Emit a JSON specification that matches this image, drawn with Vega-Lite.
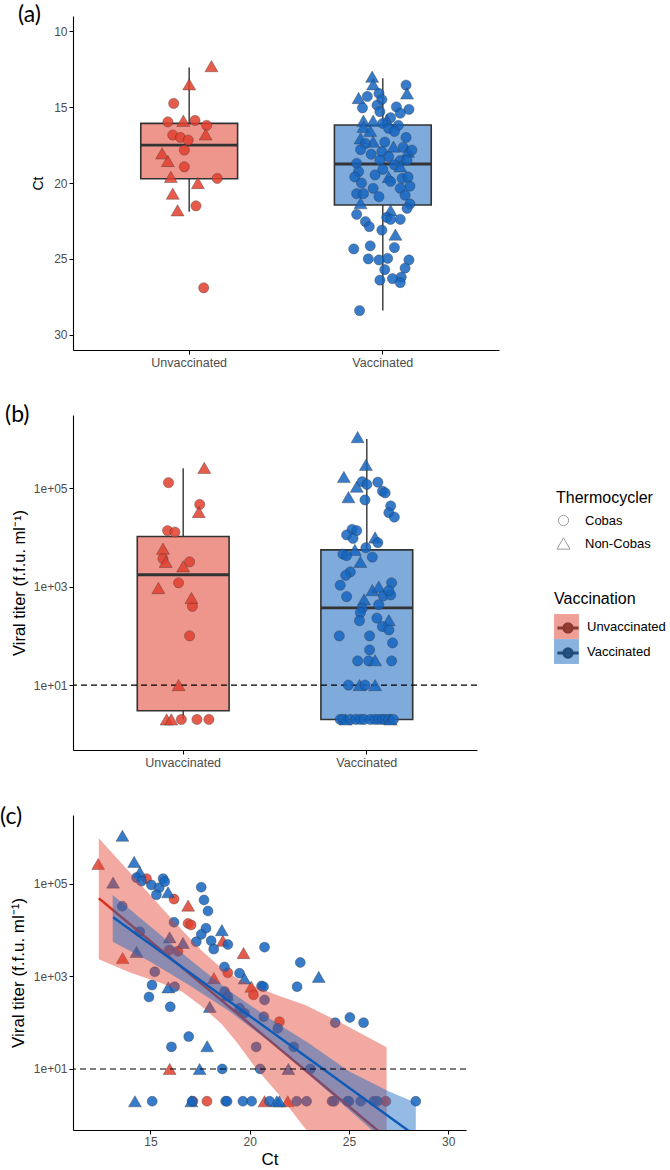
{
"$schema": "https://vega.github.io/schema/vega-lite/v6.json",
"background": "white",
"padding": {"left": 0, "top": 4, "right": 0, "bottom": 0},
"bounds": "flush",
"spacing": 65,
"config": {
  "view": {"stroke": null},
  "font": "Liberation Sans",
  "axis": {"grid": false, "domainColor": "#000", "domainWidth": 1.1, "tickColor": "#000", "tickWidth": 1, "tickSize": 4, "labelColor": "#4d4d4d", "labelFontSize": 12, "labelPadding": 2, "titleColor": "#000", "titleFontWeight": "normal", "titleFontSize": 16},
  "title": {"font": "Lato", "fontSize": 23, "fontWeight": "normal", "color": "#000", "anchor": "start", "frame": "group", "offset": -11},
  "legend": {"titleFontWeight": "normal", "titleColor": "#000", "labelColor": "#000", "titleFontSize": 16, "labelFontSize": 13}
},
"resolve": {"scale": {"fill": "independent", "shape": "independent", "size": "independent", "stroke": "independent"}},
"datasets": {
  "boxA": [
    {"g": "Unvaccinated", "lo": 12.4, "q1": 16.07, "med": 17.5, "q3": 19.72, "hi": 21.9},
    {"g": "Vaccinated", "lo": 13.1, "q1": 16.18, "med": 18.75, "q3": 21.45, "hi": 28.4}
  ],
  "boxB": [
    {"g": "Unvaccinated", "lo": 2, "q1": 3.0, "med": 1750, "q3": 10500, "hi": 255000},
    {"g": "Vaccinated", "lo": 2, "q1": 2, "med": 370, "q3": 5600, "hi": 1000000}
  ],
  "pa": [
    {"g":"Unvaccinated","th":"Non-Cobas","ct":12.3,"j":0.23},
    {"g":"Unvaccinated","th":"Non-Cobas","ct":13.5,"j":0.0},
    {"g":"Unvaccinated","th":"Cobas","ct":14.76,"j":-0.16},
    {"g":"Unvaccinated","th":"Cobas","ct":15.97,"j":-0.22},
    {"g":"Unvaccinated","th":"Non-Cobas","ct":15.9,"j":-0.06},
    {"g":"Unvaccinated","th":"Cobas","ct":15.88,"j":0.06},
    {"g":"Unvaccinated","th":"Cobas","ct":16.2,"j":0.18},
    {"g":"Unvaccinated","th":"Non-Cobas","ct":16.8,"j":0.17},
    {"g":"Unvaccinated","th":"Cobas","ct":16.84,"j":-0.17},
    {"g":"Unvaccinated","th":"Cobas","ct":17.0,"j":-0.09},
    {"g":"Unvaccinated","th":"Cobas","ct":17.17,"j":-0.01},
    {"g":"Unvaccinated","th":"Cobas","ct":17.83,"j":-0.05},
    {"g":"Unvaccinated","th":"Non-Cobas","ct":18.05,"j":-0.28},
    {"g":"Unvaccinated","th":"Non-Cobas","ct":18.55,"j":-0.22},
    {"g":"Unvaccinated","th":"Cobas","ct":18.93,"j":-0.05},
    {"g":"Unvaccinated","th":"Non-Cobas","ct":19.6,"j":-0.19},
    {"g":"Unvaccinated","th":"Cobas","ct":19.7,"j":0.29},
    {"g":"Unvaccinated","th":"Non-Cobas","ct":20.0,"j":0.09},
    {"g":"Unvaccinated","th":"Non-Cobas","ct":20.7,"j":-0.17},
    {"g":"Unvaccinated","th":"Cobas","ct":21.5,"j":0.07},
    {"g":"Unvaccinated","th":"Non-Cobas","ct":21.8,"j":-0.12},
    {"g":"Unvaccinated","th":"Cobas","ct":26.9,"j":0.15},
    {"g":"Vaccinated","th":"Non-Cobas","ct":13.0,"j":-0.11},
    {"g":"Vaccinated","th":"Non-Cobas","ct":13.5,"j":-0.10},
    {"g":"Vaccinated","th":"Cobas","ct":13.55,"j":0.24},
    {"g":"Vaccinated","th":"Non-Cobas","ct":14.1,"j":0.25},
    {"g":"Vaccinated","th":"Non-Cobas","ct":14.4,"j":-0.25},
    {"g":"Vaccinated","th":"Cobas","ct":14.3,"j":-0.16},
    {"g":"Vaccinated","th":"Cobas","ct":14.1,"j":-0.04},
    {"g":"Vaccinated","th":"Cobas","ct":14.5,"j":-0.01},
    {"g":"Vaccinated","th":"Cobas","ct":15.05,"j":-0.21},
    {"g":"Vaccinated","th":"Cobas","ct":14.87,"j":-0.06},
    {"g":"Vaccinated","th":"Cobas","ct":14.98,"j":0.14},
    {"g":"Vaccinated","th":"Cobas","ct":15.15,"j":0.27},
    {"g":"Vaccinated","th":"Cobas","ct":15.3,"j":-0.03},
    {"g":"Vaccinated","th":"Cobas","ct":15.4,"j":0.18},
    {"g":"Vaccinated","th":"Cobas","ct":15.7,"j":0.08},
    {"g":"Vaccinated","th":"Non-Cobas","ct":15.86,"j":0.04},
    {"g":"Vaccinated","th":"Non-Cobas","ct":15.9,"j":-0.2},
    {"g":"Vaccinated","th":"Non-Cobas","ct":15.9,"j":-0.1},
    {"g":"Vaccinated","th":"Cobas","ct":16.2,"j":0.16},
    {"g":"Vaccinated","th":"Non-Cobas","ct":16.3,"j":-0.2},
    {"g":"Vaccinated","th":"Cobas","ct":16.07,"j":0.0},
    {"g":"Vaccinated","th":"Cobas","ct":16.4,"j":0.06},
    {"g":"Vaccinated","th":"Non-Cobas","ct":16.56,"j":-0.13},
    {"g":"Vaccinated","th":"Cobas","ct":16.6,"j":0.12},
    {"g":"Vaccinated","th":"Non-Cobas","ct":17.06,"j":-0.23},
    {"g":"Vaccinated","th":"Non-Cobas","ct":17.28,"j":-0.1},
    {"g":"Vaccinated","th":"Cobas","ct":17.0,"j":0.24},
    {"g":"Vaccinated","th":"Cobas","ct":17.3,"j":0.02},
    {"g":"Vaccinated","th":"Cobas","ct":17.4,"j":-0.18},
    {"g":"Vaccinated","th":"Non-Cobas","ct":17.6,"j":0.11},
    {"g":"Vaccinated","th":"Cobas","ct":17.8,"j":-0.23},
    {"g":"Vaccinated","th":"Cobas","ct":17.94,"j":-0.01},
    {"g":"Vaccinated","th":"Cobas","ct":17.65,"j":0.21},
    {"g":"Vaccinated","th":"Non-Cobas","ct":17.94,"j":0.26},
    {"g":"Vaccinated","th":"Cobas","ct":17.83,"j":0.3},
    {"g":"Vaccinated","th":"Cobas","ct":18.1,"j":-0.12},
    {"g":"Vaccinated","th":"Cobas","ct":18.27,"j":0.06},
    {"g":"Vaccinated","th":"Cobas","ct":18.5,"j":-0.03},
    {"g":"Vaccinated","th":"Cobas","ct":18.53,"j":0.18},
    {"g":"Vaccinated","th":"Cobas","ct":18.49,"j":0.25},
    {"g":"Vaccinated","th":"Cobas","ct":18.7,"j":-0.27},
    {"g":"Vaccinated","th":"Cobas","ct":18.8,"j":0.12},
    {"g":"Vaccinated","th":"Non-Cobas","ct":18.9,"j":0.18},
    {"g":"Vaccinated","th":"Cobas","ct":19.1,"j":0.0},
    {"g":"Vaccinated","th":"Cobas","ct":19.25,"j":-0.25},
    {"g":"Vaccinated","th":"Cobas","ct":19.47,"j":-0.08},
    {"g":"Vaccinated","th":"Non-Cobas","ct":19.6,"j":0.06},
    {"g":"Vaccinated","th":"Cobas","ct":19.6,"j":-0.29},
    {"g":"Vaccinated","th":"Cobas","ct":19.7,"j":0.2},
    {"g":"Vaccinated","th":"Cobas","ct":19.6,"j":0.26},
    {"g":"Vaccinated","th":"Cobas","ct":19.9,"j":0.08},
    {"g":"Vaccinated","th":"Cobas","ct":20.0,"j":-0.22},
    {"g":"Vaccinated","th":"Cobas","ct":20.2,"j":0.28},
    {"g":"Vaccinated","th":"Cobas","ct":20.35,"j":0.18},
    {"g":"Vaccinated","th":"Cobas","ct":20.35,"j":-0.1},
    {"g":"Vaccinated","th":"Cobas","ct":20.7,"j":-0.27},
    {"g":"Vaccinated","th":"Cobas","ct":20.7,"j":-0.2},
    {"g":"Vaccinated","th":"Cobas","ct":20.9,"j":-0.04},
    {"g":"Vaccinated","th":"Cobas","ct":20.8,"j":0.23},
    {"g":"Vaccinated","th":"Non-Cobas","ct":21.33,"j":-0.23},
    {"g":"Vaccinated","th":"Cobas","ct":21.38,"j":0.28},
    {"g":"Vaccinated","th":"Cobas","ct":21.67,"j":0.25},
    {"g":"Vaccinated","th":"Non-Cobas","ct":21.8,"j":0.08},
    {"g":"Vaccinated","th":"Cobas","ct":22.06,"j":-0.27},
    {"g":"Vaccinated","th":"Cobas","ct":22.26,"j":0.04},
    {"g":"Vaccinated","th":"Cobas","ct":22.4,"j":0.08},
    {"g":"Vaccinated","th":"Cobas","ct":22.39,"j":0.18},
    {"g":"Vaccinated","th":"Cobas","ct":22.54,"j":-0.18},
    {"g":"Vaccinated","th":"Cobas","ct":22.87,"j":-0.14},
    {"g":"Vaccinated","th":"Cobas","ct":23.1,"j":-0.01},
    {"g":"Vaccinated","th":"Non-Cobas","ct":23.4,"j":0.13},
    {"g":"Vaccinated","th":"Cobas","ct":24.14,"j":-0.13},
    {"g":"Vaccinated","th":"Cobas","ct":24.25,"j":0.12},
    {"g":"Vaccinated","th":"Cobas","ct":24.34,"j":-0.3},
    {"g":"Vaccinated","th":"Cobas","ct":24.96,"j":0.05},
    {"g":"Vaccinated","th":"Cobas","ct":25.0,"j":-0.15},
    {"g":"Vaccinated","th":"Cobas","ct":25.07,"j":-0.04},
    {"g":"Vaccinated","th":"Cobas","ct":25.07,"j":0.27},
    {"g":"Vaccinated","th":"Cobas","ct":25.6,"j":0.23},
    {"g":"Vaccinated","th":"Cobas","ct":25.7,"j":0.02},
    {"g":"Vaccinated","th":"Cobas","ct":26.2,"j":0.19},
    {"g":"Vaccinated","th":"Cobas","ct":26.3,"j":0.1},
    {"g":"Vaccinated","th":"Cobas","ct":26.4,"j":-0.03},
    {"g":"Vaccinated","th":"Cobas","ct":26.56,"j":0.18},
    {"g":"Vaccinated","th":"Cobas","ct":28.4,"j":-0.24}
  ],
  "pb": [
    {"g":"Unvaccinated","th":"Cobas","titer":130000,"j":-0.16},
    {"g":"Unvaccinated","th":"Non-Cobas","titer":260000,"j":0.23},
    {"g":"Unvaccinated","th":"Cobas","titer":47000,"j":0.18},
    {"g":"Unvaccinated","th":"Non-Cobas","titer":33000,"j":0.17},
    {"g":"Unvaccinated","th":"Cobas","titer":13800,"j":-0.17},
    {"g":"Unvaccinated","th":"Cobas","titer":12900,"j":-0.09},
    {"g":"Unvaccinated","th":"Non-Cobas","titer":5900,"j":-0.22},
    {"g":"Unvaccinated","th":"Cobas","titer":3700,"j":-0.22},
    {"g":"Unvaccinated","th":"Non-Cobas","titer":3200,"j":-0.19},
    {"g":"Unvaccinated","th":"Cobas","titer":3200,"j":0.07},
    {"g":"Unvaccinated","th":"Non-Cobas","titer":2600,"j":0.0},
    {"g":"Unvaccinated","th":"Cobas","titer":1200,"j":-0.05},
    {"g":"Unvaccinated","th":"Non-Cobas","titer":940,"j":-0.27},
    {"g":"Unvaccinated","th":"Cobas","titer":400,"j":0.1},
    {"g":"Unvaccinated","th":"Non-Cobas","titer":590,"j":0.09},
    {"g":"Unvaccinated","th":"Cobas","titer":100,"j":0.07},
    {"g":"Unvaccinated","th":"Non-Cobas","titer":10,"j":-0.05},
    {"g":"Unvaccinated","th":"Non-Cobas","titer":2,"j":-0.18},
    {"g":"Unvaccinated","th":"Non-Cobas","titer":2,"j":-0.13},
    {"g":"Unvaccinated","th":"Cobas","titer":2,"j":-0.02},
    {"g":"Unvaccinated","th":"Cobas","titer":2,"j":0.15},
    {"g":"Unvaccinated","th":"Cobas","titer":2,"j":0.28},
    {"g":"Vaccinated","th":"Non-Cobas","titer":1100000,"j":-0.1},
    {"g":"Vaccinated","th":"Non-Cobas","titer":300000,"j":-0.01},
    {"g":"Vaccinated","th":"Non-Cobas","titer":170000,"j":-0.25},
    {"g":"Vaccinated","th":"Cobas","titer":136000,"j":-0.05},
    {"g":"Vaccinated","th":"Cobas","titer":120000,"j":0.0},
    {"g":"Vaccinated","th":"Cobas","titer":133000,"j":0.12},
    {"g":"Vaccinated","th":"Non-Cobas","titer":108000,"j":-0.11},
    {"g":"Vaccinated","th":"Cobas","titer":88000,"j":0.17},
    {"g":"Vaccinated","th":"Cobas","titer":81000,"j":0.2},
    {"g":"Vaccinated","th":"Non-Cobas","titer":66000,"j":-0.2},
    {"g":"Vaccinated","th":"Cobas","titer":58000,"j":-0.02},
    {"g":"Vaccinated","th":"Cobas","titer":44000,"j":0.26},
    {"g":"Vaccinated","th":"Cobas","titer":32000,"j":0.24},
    {"g":"Vaccinated","th":"Cobas","titer":26000,"j":0.3},
    {"g":"Vaccinated","th":"Cobas","titer":14700,"j":-0.16},
    {"g":"Vaccinated","th":"Cobas","titer":13800,"j":-0.11},
    {"g":"Vaccinated","th":"Cobas","titer":11300,"j":-0.22},
    {"g":"Vaccinated","th":"Cobas","titer":9600,"j":-0.15},
    {"g":"Vaccinated","th":"Non-Cobas","titer":10000,"j":0.09},
    {"g":"Vaccinated","th":"Cobas","titer":7900,"j":0.12},
    {"g":"Vaccinated","th":"Cobas","titer":4600,"j":-0.26},
    {"g":"Vaccinated","th":"Non-Cobas","titer":5600,"j":-0.13},
    {"g":"Vaccinated","th":"Cobas","titer":6200,"j":-0.01},
    {"g":"Vaccinated","th":"Cobas","titer":4300,"j":-0.22},
    {"g":"Vaccinated","th":"Cobas","titer":4000,"j":0.06},
    {"g":"Vaccinated","th":"Non-Cobas","titer":3200,"j":-0.07},
    {"g":"Vaccinated","th":"Cobas","titer":2000,"j":-0.18},
    {"g":"Vaccinated","th":"Cobas","titer":1700,"j":-0.23},
    {"g":"Vaccinated","th":"Cobas","titer":1070,"j":-0.29},
    {"g":"Vaccinated","th":"Cobas","titer":630,"j":-0.22},
    {"g":"Vaccinated","th":"Cobas","titer":1200,"j":0.27},
    {"g":"Vaccinated","th":"Non-Cobas","titer":850,"j":0.06},
    {"g":"Vaccinated","th":"Non-Cobas","titer":1000,"j":0.13},
    {"g":"Vaccinated","th":"Cobas","titer":650,"j":0.18},
    {"g":"Vaccinated","th":"Cobas","titer":680,"j":0.26},
    {"g":"Vaccinated","th":"Non-Cobas","titer":550,"j":-0.03},
    {"g":"Vaccinated","th":"Cobas","titer":830,"j":0.24},
    {"g":"Vaccinated","th":"Cobas","titer":430,"j":0.13},
    {"g":"Vaccinated","th":"Cobas","titer":365,"j":-0.05},
    {"g":"Vaccinated","th":"Cobas","titer":296,"j":-0.07},
    {"g":"Vaccinated","th":"Cobas","titer":204,"j":-0.08},
    {"g":"Vaccinated","th":"Cobas","titer":230,"j":0.11},
    {"g":"Vaccinated","th":"Non-Cobas","titer":210,"j":0.24},
    {"g":"Vaccinated","th":"Cobas","titer":155,"j":0.17},
    {"g":"Vaccinated","th":"Cobas","titer":132,"j":0.24},
    {"g":"Vaccinated","th":"Cobas","titer":100,"j":-0.3},
    {"g":"Vaccinated","th":"Cobas","titer":100,"j":0.03},
    {"g":"Vaccinated","th":"Cobas","titer":72,"j":0.28},
    {"g":"Vaccinated","th":"Cobas","titer":52,"j":0.03},
    {"g":"Vaccinated","th":"Cobas","titer":31,"j":-0.1},
    {"g":"Vaccinated","th":"Cobas","titer":31,"j":0.02},
    {"g":"Vaccinated","th":"Non-Cobas","titer":32,"j":0.09},
    {"g":"Vaccinated","th":"Cobas","titer":31,"j":0.27},
    {"g":"Vaccinated","th":"Cobas","titer":10,"j":-0.2},
    {"g":"Vaccinated","th":"Non-Cobas","titer":10,"j":-0.08},
    {"g":"Vaccinated","th":"Cobas","titer":10,"j":-0.02},
    {"g":"Vaccinated","th":"Non-Cobas","titer":10,"j":0.09},
    {"g":"Vaccinated","th":"Cobas","titer":2,"j":-0.29},
    {"g":"Vaccinated","th":"Cobas","titer":2,"j":-0.26},
    {"g":"Vaccinated","th":"Non-Cobas","titer":2,"j":-0.23},
    {"g":"Vaccinated","th":"Cobas","titer":2,"j":-0.18},
    {"g":"Vaccinated","th":"Cobas","titer":2,"j":-0.12},
    {"g":"Vaccinated","th":"Cobas","titer":2,"j":-0.07},
    {"g":"Vaccinated","th":"Cobas","titer":2,"j":-0.03},
    {"g":"Vaccinated","th":"Cobas","titer":2,"j":0.04},
    {"g":"Vaccinated","th":"Cobas","titer":2,"j":0.09},
    {"g":"Vaccinated","th":"Cobas","titer":2,"j":0.13},
    {"g":"Vaccinated","th":"Cobas","titer":2,"j":0.17},
    {"g":"Vaccinated","th":"Cobas","titer":2,"j":0.2},
    {"g":"Vaccinated","th":"Cobas","titer":2,"j":0.24},
    {"g":"Vaccinated","th":"Non-Cobas","titer":2,"j":0.26},
    {"g":"Vaccinated","th":"Cobas","titer":2,"j":0.29}
  ],
  "pc": [
    {"g":"Unvaccinated","th":"Non-Cobas","ct":12.37,"titer":270000},
    {"g":"Unvaccinated","th":"Non-Cobas","ct":13.6,"titer":2500},
    {"g":"Unvaccinated","th":"Cobas","ct":14.8,"titer":130000},
    {"g":"Unvaccinated","th":"Cobas","ct":16.19,"titer":47000},
    {"g":"Unvaccinated","th":"Non-Cobas","ct":16.9,"titer":34000},
    {"g":"Unvaccinated","th":"Cobas","ct":16.9,"titer":14000},
    {"g":"Unvaccinated","th":"Cobas","ct":17.05,"titer":13000},
    {"g":"Unvaccinated","th":"Cobas","ct":15.94,"titer":3700},
    {"g":"Unvaccinated","th":"Cobas","ct":16.39,"titer":3500},
    {"g":"Unvaccinated","th":"Non-Cobas","ct":18.65,"titer":5900},
    {"g":"Unvaccinated","th":"Non-Cobas","ct":19.69,"titer":3200},
    {"g":"Unvaccinated","th":"Cobas","ct":18.9,"titer":1200},
    {"g":"Unvaccinated","th":"Non-Cobas","ct":18.2,"titer":920},
    {"g":"Unvaccinated","th":"Non-Cobas","ct":20.08,"titer":600},
    {"g":"Unvaccinated","th":"Cobas","ct":20.19,"titer":400},
    {"g":"Unvaccinated","th":"Cobas","ct":21.5,"titer":105},
    {"g":"Unvaccinated","th":"Non-Cobas","ct":15.97,"titer":10},
    {"g":"Unvaccinated","th":"Non-Cobas","ct":20.75,"titer":2},
    {"g":"Unvaccinated","th":"Non-Cobas","ct":21.92,"titer":2},
    {"g":"Unvaccinated","th":"Cobas","ct":17.14,"titer":2},
    {"g":"Unvaccinated","th":"Cobas","ct":17.85,"titer":2},
    {"g":"Unvaccinated","th":"Cobas","ct":26.86,"titer":2},
    {"g":"Vaccinated","th":"Non-Cobas","ct":13.59,"titer":1100000},
    {"g":"Vaccinated","th":"Non-Cobas","ct":13.12,"titer":107000},
    {"g":"Vaccinated","th":"Non-Cobas","ct":14.18,"titer":300000},
    {"g":"Vaccinated","th":"Non-Cobas","ct":14.47,"titer":180000},
    {"g":"Vaccinated","th":"Cobas","ct":14.3,"titer":137000},
    {"g":"Vaccinated","th":"Cobas","ct":14.55,"titer":115000},
    {"g":"Vaccinated","th":"Cobas","ct":15.05,"titer":95000},
    {"g":"Vaccinated","th":"Cobas","ct":15.44,"titer":83000},
    {"g":"Vaccinated","th":"Cobas","ct":15.64,"titer":130000},
    {"g":"Vaccinated","th":"Cobas","ct":15.72,"titer":112000},
    {"g":"Vaccinated","th":"Cobas","ct":15.3,"titer":58000},
    {"g":"Vaccinated","th":"Non-Cobas","ct":15.89,"titer":66000},
    {"g":"Vaccinated","th":"Cobas","ct":17.56,"titer":85000},
    {"g":"Vaccinated","th":"Cobas","ct":17.7,"titer":45000},
    {"g":"Vaccinated","th":"Cobas","ct":17.9,"titer":26000},
    {"g":"Vaccinated","th":"Cobas","ct":13.58,"titer":33000},
    {"g":"Vaccinated","th":"Cobas","ct":16.19,"titer":14800},
    {"g":"Vaccinated","th":"Cobas","ct":17.8,"titer":11000},
    {"g":"Vaccinated","th":"Non-Cobas","ct":18.6,"titer":10000},
    {"g":"Vaccinated","th":"Cobas","ct":17.56,"titer":8100},
    {"g":"Vaccinated","th":"Cobas","ct":17.31,"titer":5600},
    {"g":"Vaccinated","th":"Cobas","ct":18.06,"titer":5900},
    {"g":"Vaccinated","th":"Cobas","ct":18.19,"titer":3900},
    {"g":"Vaccinated","th":"Cobas","ct":18.9,"titer":4900},
    {"g":"Vaccinated","th":"Cobas","ct":20.75,"titer":4300},
    {"g":"Vaccinated","th":"Non-Cobas","ct":15.97,"titer":7000},
    {"g":"Vaccinated","th":"Non-Cobas","ct":16.64,"titer":5300},
    {"g":"Vaccinated","th":"Cobas","ct":14.46,"titer":9300},
    {"g":"Vaccinated","th":"Non-Cobas","ct":14.3,"titer":3400},
    {"g":"Vaccinated","th":"Cobas","ct":15.22,"titer":1260},
    {"g":"Vaccinated","th":"Cobas","ct":15.08,"titer":650},
    {"g":"Vaccinated","th":"Cobas","ct":14.93,"titer":360},
    {"g":"Vaccinated","th":"Non-Cobas","ct":15.9,"titer":580},
    {"g":"Vaccinated","th":"Cobas","ct":16.22,"titer":600},
    {"g":"Vaccinated","th":"Cobas","ct":16.0,"titer":220},
    {"g":"Vaccinated","th":"Non-Cobas","ct":17.99,"titer":220},
    {"g":"Vaccinated","th":"Cobas","ct":18.73,"titer":1600},
    {"g":"Vaccinated","th":"Cobas","ct":19.49,"titer":1170},
    {"g":"Vaccinated","th":"Non-Cobas","ct":19.74,"titer":900},
    {"g":"Vaccinated","th":"Cobas","ct":20.6,"titer":620},
    {"g":"Vaccinated","th":"Cobas","ct":20.7,"titer":600},
    {"g":"Vaccinated","th":"Cobas","ct":18.74,"titer":470},
    {"g":"Vaccinated","th":"Cobas","ct":18.9,"titer":370},
    {"g":"Vaccinated","th":"Cobas","ct":19.49,"titer":204},
    {"g":"Vaccinated","th":"Cobas","ct":19.74,"titer":160},
    {"g":"Vaccinated","th":"Cobas","ct":20.75,"titer":310},
    {"g":"Vaccinated","th":"Cobas","ct":20.71,"titer":135},
    {"g":"Vaccinated","th":"Cobas","ct":21.42,"titer":76},
    {"g":"Vaccinated","th":"Cobas","ct":20.33,"titer":30},
    {"g":"Vaccinated","th":"Cobas","ct":22.22,"titer":30},
    {"g":"Vaccinated","th":"Cobas","ct":16.93,"titer":50},
    {"g":"Vaccinated","th":"Cobas","ct":16.06,"titer":30},
    {"g":"Vaccinated","th":"Non-Cobas","ct":17.86,"titer":31},
    {"g":"Vaccinated","th":"Cobas","ct":22.39,"titer":600},
    {"g":"Vaccinated","th":"Cobas","ct":22.55,"titer":2000},
    {"g":"Vaccinated","th":"Non-Cobas","ct":23.48,"titer":980},
    {"g":"Vaccinated","th":"Cobas","ct":24.31,"titer":100},
    {"g":"Vaccinated","th":"Cobas","ct":25.05,"titer":130},
    {"g":"Vaccinated","th":"Cobas","ct":25.74,"titer":100},
    {"g":"Vaccinated","th":"Non-Cobas","ct":18.87,"titer":400},
    {"g":"Vaccinated","th":"Non-Cobas","ct":17.48,"titer":10},
    {"g":"Vaccinated","th":"Cobas","ct":18.62,"titer":10},
    {"g":"Vaccinated","th":"Cobas","ct":20.53,"titer":10},
    {"g":"Vaccinated","th":"Non-Cobas","ct":21.95,"titer":10},
    {"g":"Vaccinated","th":"Cobas","ct":23.06,"titer":10},
    {"g":"Vaccinated","th":"Non-Cobas","ct":14.22,"titer":2},
    {"g":"Vaccinated","th":"Cobas","ct":15.09,"titer":2},
    {"g":"Vaccinated","th":"Non-Cobas","ct":17.06,"titer":2},
    {"g":"Vaccinated","th":"Cobas","ct":17.1,"titer":2},
    {"g":"Vaccinated","th":"Cobas","ct":18.79,"titer":2},
    {"g":"Vaccinated","th":"Cobas","ct":18.86,"titer":2},
    {"g":"Vaccinated","th":"Cobas","ct":19.66,"titer":2},
    {"g":"Vaccinated","th":"Cobas","ct":20.1,"titer":2},
    {"g":"Vaccinated","th":"Cobas","ct":21.0,"titer":2},
    {"g":"Vaccinated","th":"Non-Cobas","ct":21.37,"titer":2},
    {"g":"Vaccinated","th":"Non-Cobas","ct":21.5,"titer":2},
    {"g":"Vaccinated","th":"Cobas","ct":22.37,"titer":2},
    {"g":"Vaccinated","th":"Cobas","ct":22.87,"titer":2},
    {"g":"Vaccinated","th":"Cobas","ct":24.15,"titer":2},
    {"g":"Vaccinated","th":"Cobas","ct":24.26,"titer":2},
    {"g":"Vaccinated","th":"Cobas","ct":24.93,"titer":2},
    {"g":"Vaccinated","th":"Cobas","ct":25.0,"titer":2},
    {"g":"Vaccinated","th":"Cobas","ct":25.6,"titer":2},
    {"g":"Vaccinated","th":"Cobas","ct":26.26,"titer":2},
    {"g":"Vaccinated","th":"Cobas","ct":26.43,"titer":2},
    {"g":"Vaccinated","th":"Cobas","ct":28.37,"titer":2}
  ],
  "rib": [
    {"g":"Unvaccinated","ct":12.4,"lo":2344,"hi":977000},
    {"g":"Unvaccinated","ct":14.0,"lo":1202,"hi":170000},
    {"g":"Unvaccinated","ct":15.6,"lo":708,"hi":29500},
    {"g":"Unvaccinated","ct":16.6,"lo":468,"hi":10000},
    {"g":"Unvaccinated","ct":17.6,"lo":224,"hi":3548},
    {"g":"Unvaccinated","ct":18.6,"lo":93,"hi":1479},
    {"g":"Unvaccinated","ct":19.4,"lo":35.5,"hi":891},
    {"g":"Unvaccinated","ct":20.2,"lo":12.0,"hi":617},
    {"g":"Unvaccinated","ct":21.5,"lo":2.69,"hi":380},
    {"g":"Unvaccinated","ct":22.8,"lo":0.513,"hi":240},
    {"g":"Unvaccinated","ct":24.5,"lo":0.0794,"hi":105},
    {"g":"Unvaccinated","ct":26.9,"lo":0.0063,"hi":29.5},
    {"g":"Vaccinated","ct":13.1,"lo":5623,"hi":57544},
    {"g":"Vaccinated","ct":15.0,"lo":2089,"hi":12023},
    {"g":"Vaccinated","ct":17.0,"lo":631,"hi":2291},
    {"g":"Vaccinated","ct":19.0,"lo":174,"hi":479},
    {"g":"Vaccinated","ct":21.0,"lo":38.9,"hi":123},
    {"g":"Vaccinated","ct":23.0,"lo":7.41,"hi":35.5},
    {"g":"Vaccinated","ct":25.0,"lo":1.32,"hi":8.9},
    {"g":"Vaccinated","ct":27.0,"lo":0.229,"hi":3.31},
    {"g":"Vaccinated","ct":28.37,"lo":0.0676,"hi":1.86}
  ],
  "fit": [
    {"g":"Unvaccinated","ct":12.4,"v":48978},
    {"g":"Unvaccinated","ct":26.9,"v":0.324},
    {"g":"Vaccinated","ct":13.12,"v":19055},
    {"g":"Vaccinated","ct":28.37,"v":0.355}
  ]
},
"vconcat": [
  {
    "width": 426, "height": 334,
    "title": {"text": "(a)", "dx": -55},
    "resolve": {"scale": {"xOffset": "independent"}},
    "encoding": {
      "x": {"field": "g", "type": "nominal", "scale": {"type": "band", "domain": ["Unvaccinated","Vaccinated"], "paddingInner": 0.5, "paddingOuter": 0.35}, "axis": {"title": null, "labelAngle": 0, "labelFontSize": 12.5}}
    },
    "layer": [
      {"data": {"name": "boxA"}, "mark": {"type": "rule", "color": "#333", "strokeWidth": 1.4},
       "encoding": {"y": {"field": "lo", "type": "quantitative", "scale": {"domain": [9, 31], "reverse": true, "nice": false, "zero": false}, "axis": {"values": [10,15,20,25,30], "title": "Ct", "titleFontSize": 14, "titlePadding": 8}}, "y2": {"field": "q1"}}},
      {"data": {"name": "boxA"}, "mark": {"type": "rule", "color": "#333", "strokeWidth": 1.4},
       "encoding": {"y": {"field": "q3", "type": "quantitative"}, "y2": {"field": "hi"}}},
      {"data": {"name": "boxA"}, "mark": {"type": "bar", "width": {"band": 1}, "stroke": "#333", "strokeWidth": 1.6, "fillOpacity": 0.55},
       "encoding": {"y": {"field": "q1", "type": "quantitative"}, "y2": {"field": "q3"},
         "fill": {"field": "g", "type": "nominal", "scale": {"domain": ["Unvaccinated","Vaccinated"], "range": ["#E0402E","#1565C0"]}, "legend": null}}},
      {"data": {"name": "boxA"}, "mark": {"type": "tick", "color": "#333", "opacity": 1, "thickness": 2.8, "size": 97},
       "encoding": {"y": {"field": "med", "type": "quantitative"}}},
      {"data": {"name": "pa"}, "mark": {"type": "point", "filled": true, "opacity": 1, "fillOpacity": 0.85, "stroke": "#333", "strokeWidth": 0.5, "strokeOpacity": 0.7},
       "encoding": {
         "xOffset": {"field": "j", "type": "quantitative", "scale": {"domain": [-0.5, 0.5]}},
         "y": {"field": "ct", "type": "quantitative"},
         "fill": {"field": "g", "type": "nominal", "legend": null},
         "shape": {"field": "th", "type": "nominal", "scale": {"domain": ["Cobas","Non-Cobas"], "range": ["circle","triangle-up"]}, "legend": null},
         "size": {"field": "th", "type": "ordinal", "scale": {"domain": ["Cobas","Non-Cobas"], "range": [105, 170]}, "legend": null}
       }}
    ]
  },
  {
    "width": 404, "height": 335,
    "title": {"text": "(b)", "dx": -68, "offset": -12},
    "resolve": {"scale": {"xOffset": "independent"}},
    "encoding": {
      "x": {"field": "g", "type": "nominal", "scale": {"type": "band", "domain": ["Unvaccinated","Vaccinated"], "paddingInner": 0.5, "paddingOuter": 0.35}, "axis": {"title": null, "labelAngle": 0, "labelFontSize": 12.5}}
    },
    "layer": [
      {"data": {"name": "boxB"}, "mark": {"type": "rule", "strokeWidth": 1.4},
       "encoding": {"y": {"field": "lo", "type": "quantitative", "scale": {"type": "log", "domain": [0.479, 3090000], "nice": false}, "axis": {"values": [10, 1000, 100000], "labelExpr": "datum.value == 10 ? '1e+01' : datum.value == 1000 ? '1e+03' : '1e+05'", "title": "Viral titer (f.f.u. ml⁻¹)", "titleFontSize": 16.5, "titlePadding": 6}}, "y2": {"field": "q1"},
         "stroke": {"field": "g", "type": "nominal", "title": " ", "scale": {"domain": ["Vaccinated","Unvaccinated"], "range": ["#333333","#333333"]},
           "legend": {"orient": "none", "legendX": 481, "legendY": 176, "values": ["Unvaccinated","Vaccinated"], "symbolType": "M-0.85,0L0.85,0M0.34,0A0.34,0.34,0,1,1,-0.34,0A0.34,0.34,0,1,1,0.34,0", "symbolSize": 620, "symbolStrokeWidth": 3, "labelOffset": 8, "rowPadding": 0, "titlePadding": 7, "labelExpr": "''",
             "encode": {"symbols": {"update": {"stroke": {"signal": "datum.value === 'Unvaccinated' ? '#D93420' : '#0D5BB8'"}, "fill": {"signal": "datum.value === 'Unvaccinated' ? '#8e3b33' : '#2a538c'"}, "opacity": {"value": 1}, "strokeWidth": {"value": 3}}}}}}}},
      {"data": {"name": "boxB"}, "mark": {"type": "rule", "strokeWidth": 1.4},
       "encoding": {"y": {"field": "q3", "type": "quantitative"}, "y2": {"field": "hi"}, "stroke": {"field": "g", "type": "nominal"}}},
      {"data": {"name": "boxB"}, "mark": {"type": "bar", "width": {"band": 1}, "stroke": "#333", "strokeWidth": 1.6, "fillOpacity": 0.55},
       "encoding": {"y": {"field": "q1", "type": "quantitative"}, "y2": {"field": "q3"},
         "fill": {"field": "g", "type": "nominal", "title": "Vaccination", "scale": {"domain": ["Unvaccinated","Vaccinated"], "range": ["#E0402E","#1565C0"]},
           "legend": {"orient": "none", "legendX": 481, "legendY": 176, "symbolType": "square", "symbolSize": 620, "symbolOpacity": 0.5, "symbolStrokeColor": "transparent", "symbolStrokeWidth": 0, "labelOffset": 8, "rowPadding": 0, "titlePadding": 7,
             "encode": {"symbols": {"update": {"fillOpacity": {"value": 0.5}, "opacity": {"value": 1}, "strokeWidth": {"value": 0}}}}}}}},
      {"data": {"name": "boxB"}, "mark": {"type": "tick", "color": "#333", "opacity": 1, "thickness": 2.8, "size": 92},
       "encoding": {"y": {"field": "med", "type": "quantitative"}}},
      {"data": {"values": [{}]}, "mark": {"type": "rule", "strokeDash": [6, 4], "color": "#000", "strokeWidth": 1.1},
       "encoding": {"x": null, "y": {"datum": 10, "type": "quantitative"}}},
      {"data": {"name": "pb"}, "mark": {"type": "point", "filled": true, "opacity": 1, "fillOpacity": 0.85, "stroke": "#333", "strokeWidth": 0.5, "strokeOpacity": 0.7},
       "encoding": {
         "xOffset": {"field": "j", "type": "quantitative", "scale": {"domain": [-0.5, 0.5]}},
         "y": {"field": "titer", "type": "quantitative"},
         "fill": {"field": "g", "type": "nominal"},
         "shape": {"field": "th", "type": "nominal", "title": "Thermocycler", "scale": {"domain": ["Cobas","Non-Cobas"], "range": ["circle","triangle-up"]},
           "legend": {"orient": "none", "legendX": 483, "legendY": 75, "labelOffset": 14, "rowPadding": 7, "titlePadding": 8, "symbolFillColor": "white", "symbolStrokeColor": "#9a9a9a", "symbolStrokeWidth": 1, "symbolOpacity": 1}},
         "size": {"field": "th", "type": "ordinal", "title": "Thermocycler", "scale": {"domain": ["Cobas","Non-Cobas"], "range": [105, 170]},
           "legend": {"orient": "none", "legendX": 483, "legendY": 75, "labelOffset": 14, "rowPadding": 7, "titlePadding": 8, "symbolFillColor": "white", "symbolStrokeColor": "#9a9a9a", "symbolStrokeWidth": 1, "symbolOpacity": 1}}
       }}
    ]
  },
  {
    "width": 393, "height": 315,
    "title": {"text": "(c)", "dx": -73, "offset": -14},
    "encoding": {
      "x": {"field": "ct", "type": "quantitative", "scale": {"domain": [11.1, 30.9], "nice": false, "zero": false}, "axis": {"values": [15, 20, 25, 30], "title": "Ct", "titleFontSize": 17, "titlePadding": 4}}
    },
    "layer": [
      {"data": {"name": "pc"}, "mark": {"type": "point", "filled": true, "opacity": 1, "fillOpacity": 0.85, "stroke": "#333", "strokeWidth": 0.5, "strokeOpacity": 0.7},
       "encoding": {
         "y": {"field": "titer", "type": "quantitative", "scale": {"type": "log", "domain": [0.479, 3090000], "nice": false}, "axis": {"values": [10, 1000, 100000], "labelExpr": "datum.value == 10 ? '1e+01' : datum.value == 1000 ? '1e+03' : '1e+05'", "title": "Viral titer (f.f.u. ml⁻¹)", "titleFontSize": 17, "titlePadding": 6}},
         "fill": {"field": "g", "type": "nominal", "scale": {"domain": ["Unvaccinated","Vaccinated"], "range": ["#E0402E","#1565C0"]}, "legend": null},
         "shape": {"field": "th", "type": "nominal", "scale": {"domain": ["Cobas","Non-Cobas"], "range": ["circle","triangle-up"]}, "legend": null},
         "size": {"field": "th", "type": "ordinal", "scale": {"domain": ["Cobas","Non-Cobas"], "range": [100, 165]}, "legend": null}
       }},
      {"data": {"name": "rib"}, "transform": [{"filter": "datum.g == 'Unvaccinated'"}],
       "mark": {"type": "area", "clip": true, "fillOpacity": 0.45},
       "encoding": {"y": {"field": "lo", "type": "quantitative"}, "y2": {"field": "hi"}, "fill": {"field": "g", "type": "nominal"}}},
      {"data": {"name": "fit"}, "transform": [{"filter": "datum.g == 'Unvaccinated'"}],
       "mark": {"type": "line", "clip": true, "strokeWidth": 2.4},
       "encoding": {"y": {"field": "v", "type": "quantitative"},
         "stroke": {"field": "g", "type": "nominal", "scale": {"domain": ["Unvaccinated","Vaccinated"], "range": ["#D93420","#0D5BB8"]}, "legend": null}}},
      {"data": {"name": "rib"}, "transform": [{"filter": "datum.g == 'Vaccinated'"}],
       "mark": {"type": "area", "clip": true, "fillOpacity": 0.45},
       "encoding": {"y": {"field": "lo", "type": "quantitative"}, "y2": {"field": "hi"}, "fill": {"field": "g", "type": "nominal"}}},
      {"data": {"name": "fit"}, "transform": [{"filter": "datum.g == 'Vaccinated'"}],
       "mark": {"type": "line", "clip": true, "strokeWidth": 2.4},
       "encoding": {"y": {"field": "v", "type": "quantitative"}, "stroke": {"field": "g", "type": "nominal"}}},
      {"data": {"values": [{}]}, "mark": {"type": "rule", "strokeDash": [6, 4], "color": "#000", "strokeWidth": 1.1},
       "encoding": {"x": null, "y": {"datum": 10, "type": "quantitative"}}}
    ]
  }
]
}
